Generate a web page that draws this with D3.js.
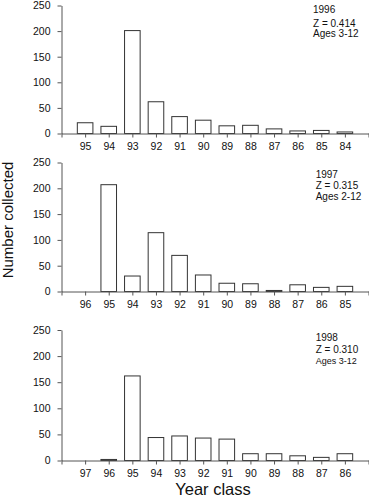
<!DOCTYPE html>
<html>
<head>
<meta charset="utf-8">
<script src="https://cdn.jsdelivr.net/npm/d3@7"></script>
<style>
  html, body { margin: 0; padding: 0; background: #fff; }
  svg { display: block; }
  text { font-family: "Liberation Sans", Arial, Helvetica, sans-serif; fill: #111; }
</style>
</head>
<body>
<svg id="chart" width="369" height="500"></svg>
<script>
// ---- data ----
const surveyYears = [1996, 1997, 1998];
const zLabels = ["Z = 0.414", "Z = 0.315", "Z = 0.310"];
const ageLabels = ["Ages 3-12", "Ages 2-12", "Ages 3-12"];

const yearClasses1996 = ["95", "94", "93", "92", "91", "90", "89", "88", "87", "86", "85", "84"];
const counts1996 = [21, 14, 201, 62, 33, 26, 15, 16, 9, 5, 6, 3];

const yearClasses1997 = ["96", "95", "94", "93", "92", "91", "90", "89", "88", "87", "86", "85"];
const counts1997 = [0, 207, 30, 114, 70, 32, 16, 15, 2, 13, 8, 10];

const yearClasses1998 = ["97", "96", "95", "94", "93", "92", "91", "90", "89", "88", "87", "86"];
const counts1998 = [0, 2, 162, 44, 47, 43, 41, 13, 13, 9, 6, 13];

const yTicks = [0, 50, 100, 150, 200, 250];
const yTitle = "Number collected";
const xTitle = "Year class";

// ---- layout ----
const svg = d3.select("#chart");
const panels = [
  { year: surveyYears[0], classes: yearClasses1996, counts: counts1996, z: zLabels[0], ages: ageLabels[0],
    y0: 133.5, y1: 5.5, ann: { x: 313, b: [13.3, 26.7, 37], agesSize: 10 } },
  { year: surveyYears[1], classes: yearClasses1997, counts: counts1997, z: zLabels[1], ages: ageLabels[1],
    y0: 291.5, y1: 162.5, ann: { x: 315.7, b: [178, 189.3, 199.5], agesSize: 10 } },
  { year: surveyYears[2], classes: yearClasses1998, counts: counts1998, z: zLabels[2], ages: ageLabels[2],
    y0: 460.5, y1: 330, ann: { x: 315.7, b: [340.7, 353.3, 364.3], agesSize: 9 } }
];

const x = d3.scaleLinear().domain([0, 13]).range([61.5, 368.5]);
const barW = (x(1) - x(0)) * 0.66;
const axisColor = "#555";

panels.forEach(p => {
  const y = d3.scaleLinear().domain([0, 250]).range([p.y0, p.y1]);
  const g = svg.append("g");
  const age = yc => (p.year % 100) - (+yc);
  const labelByAge = new Map(p.classes.map(c => [age(c), c]));

  // bars
  g.selectAll("rect.bar")
    .data(p.classes.map((c, i) => ({ c, v: p.counts[i] })).filter(d => d.v > 0))
    .join("rect")
    .attr("class", "bar")
    .attr("x", d => x(age(d.c)) - barW / 2)
    .attr("y", d => y(d.v))
    .attr("width", barW)
    .attr("height", d => y(0) - y(d.v))
    .attr("fill", "#fff")
    .attr("stroke", "#333")
    .attr("stroke-width", 1);

  // x axis
  const xa = g.append("g")
    .attr("transform", `translate(0,${p.y0})`)
    .call(d3.axisBottom(x)
      .tickValues(d3.range(0, 14))
      .tickSize(4)
      .tickSizeOuter(0)
      .tickPadding(5)
      .tickFormat(i => labelByAge.get(i) || ""));
  xa.select(".domain").attr("stroke", axisColor);
  xa.selectAll(".tick line").attr("stroke", axisColor);
  xa.selectAll(".tick text").attr("font-size", 10.5).style("font-family", "Liberation Sans, Arial, sans-serif").attr("fill", "#111");

  // y axis
  const ya = g.append("g")
    .attr("transform", `translate(${x(0)},0)`)
    .call(d3.axisLeft(y)
      .tickValues(yTicks)
      .tickSize(4)
      .tickSizeOuter(0)
      .tickPadding(7));
  ya.select(".domain").attr("stroke", axisColor);
  ya.selectAll(".tick line").attr("stroke", axisColor);
  ya.selectAll(".tick text").attr("font-size", 10.5).style("font-family", "Liberation Sans, Arial, sans-serif").attr("fill", "#111");

  // annotation
  const ann = g.append("g");
  ann.append("text").attr("x", p.ann.x).attr("y", p.ann.b[0]).attr("font-size", 10).text(String(p.year));
  ann.append("text").attr("x", p.ann.x).attr("y", p.ann.b[1]).attr("font-size", 10).text(p.z);
  ann.append("text").attr("x", p.ann.x).attr("y", p.ann.b[2]).attr("font-size", p.ann.agesSize).text(p.ages);
});

// axis titles
svg.append("text")
  .attr("transform", "translate(13,220) rotate(-90)")
  .attr("text-anchor", "middle")
  .attr("font-size", 15)
  .text(yTitle);

svg.append("text")
  .attr("x", 213)
  .attr("y", 495)
  .attr("text-anchor", "middle")
  .attr("font-size", 16.5)
  .text(xTitle);
</script>
</body>
</html>
